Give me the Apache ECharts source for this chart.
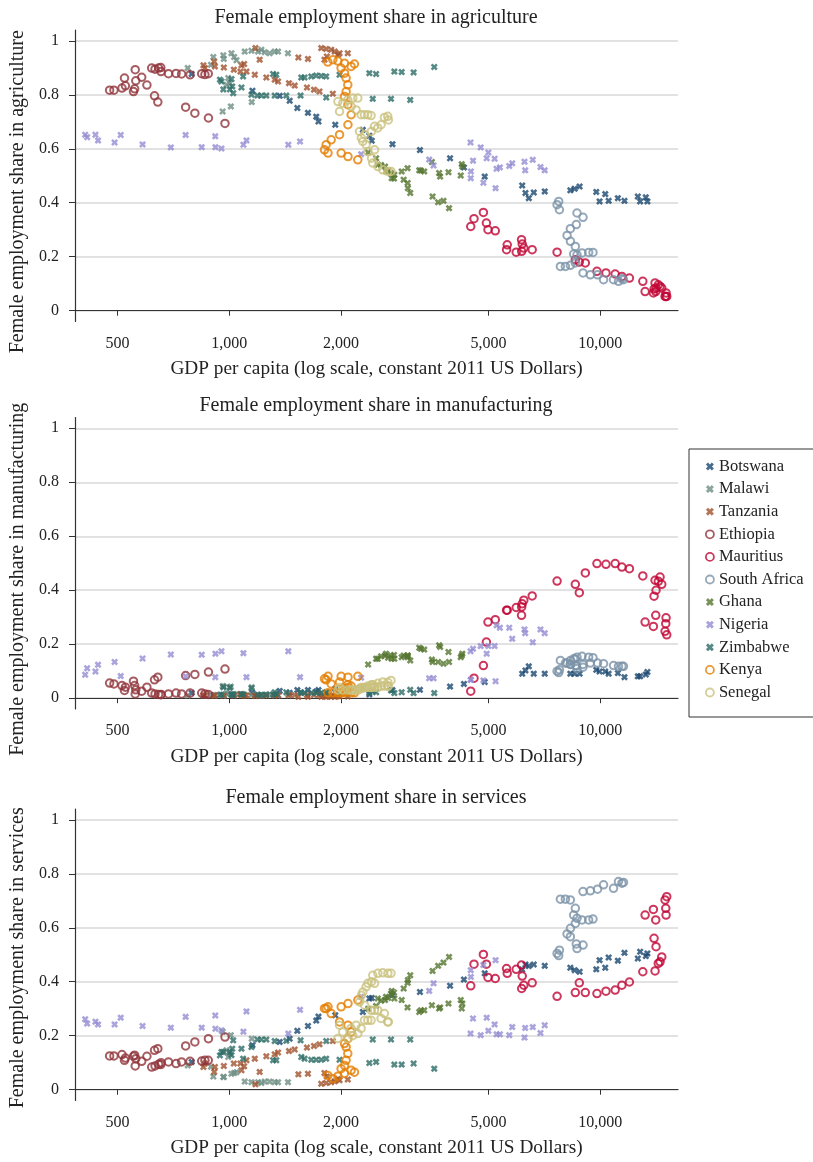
<!DOCTYPE html>
<html>
<head>
<meta charset="utf-8">
<title>Female employment share by sector</title>
<script src="https://cdn.jsdelivr.net/npm/echarts@6/dist/echarts.min.js"></script>
<style>
  html, body { margin: 0; padding: 0; background: #fff; }
  #container { width: 813px; height: 1162px; }
</style>
</head>
<body>
<div id="container"></div>
<script>
// ---- data (GDP per capita, constant 2011 US$; shares of female employment) ----
var countries = ["Botswana", "Malawi", "Tanzania", "Ethiopia", "Mauritius", "South Africa",
  "Ghana", "Nigeria", "Zimbabwe", "Kenya", "Senegal"];
var sectors = ["agriculture", "manufacturing", "services"];
var xTicks = [500, 1000, 2000, 5000, 10000];
var yTicks = [0, 0.2, 0.4, 0.6, 0.8, 1];

var botswanaGdp = [792, 1155, 1368, 1455, 1526, 1630, 1716, 1740, 1931, 2291, 2386, 2422, 2754, 3266, 3937, 4291, 4882, 6161, 6287, 6418, 6619, 7085, 8306, 8530, 8798, 9755, 9957, 10314, 10534, 11155, 11621, 12625, 12807, 13267, 13399];
var botswanaAgri = [.877, .815, .796, .778, .751, .733, .719, .701, .689, .670, .648, .630, .617, .595, .565, .531, .497, .464, .436, .417, .438, .442, .446, .452, .460, .440, .405, .432, .407, .417, .407, .423, .405, .420, .405];
var botswanaManu = [.02, .02, .027, .02, .03, .03, .025, .03, .035, .04, .014, .03, .03, .031, .043, .053, .06, .091, .103, .118, .091, .091, .091, .091, .091, .105, .099, .099, .091, .093, .078, .081, .081, .088, .097];
var botswanaServ = [.103, .165, .177, .189, .218, .236, .256, .271, .276, .288, .338, .34, .35, .362, .385, .408, .431, .445, .464, .458, .464, .459, .452, .443, .437, .446, .48, .452, .49, .478, .507, .486, .511, .495, .505];

var malawiGdp = [773, 893, 906, 964, 967, 983, 994, 1004, 1010, 960, 1014, 1031, 1046, 1101, 1148, 1150, 1196, 1221, 1246, 1285, 1326, 1354, 1440];
var malawiAgri = [.899, .911, .940, .946, .933, .837, .862, .843, .757, .738, .954, .940, .928, .960, .963, .773, .960, .967, .958, .954, .960, .960, .954];
var malawiManu = [.010, .012, .012, .010, .043, .018, .017, .041, .043, .045, .015, .015, .015, .012, .012, .041, .012, .010, .012, .015, .012, .012, .015];
var malawiServ = [.090, .085, .049, .047, .047, .146, .121, .134, .202, .215, .059, .062, .065, .030, .028, .189, .028, .025, .030, .030, .028, .028, .028];

var tanzaniaGdp = [852, 860, 911, 915, 967, 1029, 1072, 1079, 1097, 1113, 1172, 1177, 1208, 1259, 1326, 1354, 1449, 1501, 1536, 1630, 1620, 1692, 1751, 1902, 1770, 1825, 1883, 1924, 1983, 2087, 1806, 1833, 1963];
var tanzaniaAgri = [.909, .899, .923, .905, .901, .893, .886, .909, .914, .886, .874, .973, .930, .864, .856, .849, .843, .834, .938, .933, .827, .819, .812, .804, .973, .970, .967, .960, .954, .954, .930, .942, .948];
var tanzaniaManu = [.010, .010, .010, .010, .010, .010, .015, .012, .010, .010, .010, .008, .010, .010, .010, .010, .010, .012, .005, .005, .012, .012, .012, .012, .005, .005, .005, .005, .006, .006, .008, .008, .008];
var tanzaniaServ = [.084, .097, .066, .084, .088, .097, .097, .072, .087, .109, .115, .020, .066, .124, .131, .138, .143, .149, .057, .059, .156, .162, .168, .180, .022, .025, .028, .031, .035, .038, .062, .049, .040];

var ethiopiaGdp = [476, 489, 514, 522, 525, 552, 556, 558, 560, 581, 600, 618, 629, 631, 642, 645, 654, 655, 686, 719, 744, 763, 784, 808, 843, 860, 878, 879, 974];
var ethiopiaAgri = [.817, .817, .825, .862, .833, .812, .822, .893, .852, .865, .836, .899, .796, .895, .773, .899, .901, .886, .878, .879, .877, .754, .874, .732, .878, .875, .878, .714, .694];
var ethiopiaManu = [.056, .053, .047, .029, .041, .063, .047, .016, .031, .026, .041, .019, .068, .016, .078, .014, .013, .014, .016, .019, .016, .084, .019, .088, .019, .016, .014, .097, .108];
var ethiopiaServ = [.125, .125, .130, .109, .117, .124, .128, .088, .115, .105, .124, .084, .146, .088, .152, .094, .093, .100, .103, .097, .103, .162, .105, .177, .106, .109, .109, .189, .195];

var mauritiusGdp = [4476, 4568, 4842, 4933, 4982, 5213, 5614, 5591, 5936, 6135, 6161, 6222, 6140, 6554, 7649, 8566, 8781, 9114, 9797, 10360, 10970, 11436, 11983, 13022, 14049, 14336, 14493, 14647, 14136, 13964, 14110, 13210, 13905, 15043, 15015, 14950, 15108];
var mauritiusAgri = [.312, .341, .364, .325, .300, .296, .244, .226, .217, .263, .247, .232, .220, .226, .217, .189, .180, .177, .146, .140, .136, .127, .121, .109, .103, .096, .090, .084, .084, .080, .071, .071, .066, .066, .053, .053, .053];
var mauritiusManu = [.026, .074, .121, .208, .282, .291, .326, .326, .336, .307, .350, .363, .338, .379, .434, .422, .391, .464, .499, .496, .499, .486, .480, .453, .437, .433, .449, .422, .400, .378, .307, .282, .266, .298, .276, .248, .235];
var mauritiusServ = [.385, .465, .501, .465, .416, .412, .431, .449, .446, .462, .421, .387, .375, .396, .346, .360, .396, .360, .356, .365, .369, .387, .399, .437, .440, .468, .474, .492, .530, .561, .629, .647, .668, .647, .672, .703, .715];

var southAfricaGdp = [7649, 7728, 7762, 8656, 8986, 8619, 8306, 8138, 8310, 8566, 8656, 8930, 9305, 9559, 8477, 7808, 8053, 8306, 8566, 8986, 9401, 9833, 10206, 10858, 11197, 11436, 11550];
var southAfricaAgri = [.393, .405, .374, .362, .346, .319, .304, .279, .257, .238, .207, .214, .216, .216, .210, .164, .164, .168, .177, .140, .133, .133, .115, .115, .109, .119, .115];
var southAfricaManu = [.100, .095, .105, .110, .115, .120, .125, .130, .140, .145, .152, .155, .152, .150, .146, .140, .130, .125, .121, .125, .130, .130, .128, .121, .118, .118, .118];
var southAfricaServ = [.505, .497, .517, .523, .536, .540, .567, .577, .598, .616, .635, .629, .629, .632, .647, .706, .706, .703, .672, .734, .737, .743, .759, .746, .771, .765, .768];

var ghanaGdp = [2368, 2488, 2514, 2566, 2630, 2646, 2680, 2729, 2741, 2780, 2786, 2916, 2952, 3026, 3030, 3075, 3024, 3252, 3354, 3286, 3517, 3532, 3656, 3780, 3913, 3679, 3702, 3899, 4207, 4233, 4249];
var ghanaAgri = [.586, .565, .541, .540, .534, .516, .520, .510, .491, .490, .504, .516, .485, .473, .454, .436, .528, .520, .516, .519, .551, .423, .402, .407, .380, .510, .497, .513, .501, .543, .534];
var ghanaManu = [.125, .146, .146, .155, .158, .165, .150, .158, .146, .160, .146, .152, .158, .152, .158, .140, .158, .187, .180, .183, .143, .134, .134, .128, .134, .196, .190, .171, .152, .158, .165];
var ghanaServ = [.300, .310, .338, .330, .332, .344, .340, .356, .366, .360, .338, .332, .375, .396, .406, .424, .305, .288, .294, .294, .313, .440, .459, .471, .492, .301, .305, .319, .332, .301, .319];

var nigeriaGdp = [409, 414, 436, 443, 491, 510, 584, 696, 763, 843, 917, 918, 953, 1092, 1113, 1443, 1552, 2267, 3459, 3554, 4476, 4480, 4470, 4540, 4761, 4842, 4994, 4942, 5191, 5222, 5255, 5364, 5686, 5791, 6249, 6276, 6578, 6900, 7085];
var nigeriaAgri = [.652, .643, .652, .631, .623, .651, .616, .605, .651, .606, .646, .606, .601, .615, .631, .615, .627, .580, .560, .538, .491, .516, .623, .556, .605, .474, .586, .565, .563, .454, .526, .531, .536, .546, .552, .520, .559, .532, .520];
var nigeriaManu = [.087, .111, .099, .124, .134, .082, .147, .162, .081, .161, .078, .165, .174, .167, .078, .174, .078, .076, .074, .074, .068, .068, .174, .183, .193, .066, .193, .165, .193, .063, .270, .261, .261, .220, .255, .241, .207, .255, .241];
var nigeriaServ = [.261, .245, .252, .242, .242, .267, .236, .230, .270, .230, .275, .226, .220, .215, .290, .208, .296, .344, .366, .394, .443, .418, .208, .264, .202, .462, .218, .267, .242, .480, .205, .205, .202, .232, .193, .229, .232, .210, .239];

var zimbabweGdp = [944, 953, 1014, 1019, 1025, 1004, 964, 1079, 1090, 1148, 1191, 1221, 1259, 1313, 1339, 1326, 1425, 1557, 1564, 1596, 1664, 1716, 1770, 1825, 1826, 1983, 2386, 2488, 2437, 2729, 2786, 2916, 3075, 3140, 3569];
var zimbabweAgri = [.856, .849, .858, .831, .806, .820, .820, .827, .868, .800, .797, .797, .797, .877, .874, .797, .797, .797, .864, .864, .868, .871, .870, .868, .790, .874, .880, .877, .785, .785, .886, .884, .781, .883, .903];
var zimbabweManu = [.013, .013, .013, .013, .013, .039, .041, .015, .015, .037, .013, .013, .013, .013, .015, .022, .022, .022, .020, .020, .020, .020, .020, .020, .022, .020, .020, .022, .026, .029, .019, .022, .031, .019, .019];
var zimbabweServ = [.127, .140, .128, .152, .183, .140, .140, .152, .115, .158, .186, .186, .186, .109, .109, .180, .181, .183, .121, .115, .111, .111, .111, .115, .180, .111, .099, .103, .186, .186, .093, .093, .186, .097, .078];

var kenyaGdp = [1844, 1902, 1963, 2044, 2175, 2131, 2002, 2046, 2065, 2087, 2066, 2045, 2088, 2131, 2089, 1983, 1883, 1825, 1806, 1846, 2003, 2090, 2221];
var kenyaAgri = [.921, .930, .925, .917, .914, .905, .899, .880, .862, .837, .812, .794, .763, .726, .689, .652, .633, .615, .596, .584, .584, .571, .559];
var kenyaManu = [.020, .020, .020, .020, .020, .020, .020, .025, .025, .030, .030, .035, .040, .045, .050, .060, .053, .068, .072, .081, .081, .078, .081];
var kenyaServ = [.053, .041, .050, .060, .065, .072, .078, .090, .109, .134, .158, .171, .189, .214, .239, .251, .282, .301, .301, .307, .307, .319, .332];

var senegalGdp = [1963, 2023, 1983, 2087, 2153, 2221, 2131, 2198, 2267, 2314, 2363, 2412, 2463, 2514, 2566, 2619, 2684, 2674, 2415, 2316, 2244, 2270, 2291, 2338, 2465, 2365, 2418, 2437, 2516, 2593, 2676, 2729];
var senegalAgri = [.775, .769, .738, .781, .788, .788, .757, .744, .726, .726, .726, .723, .683, .677, .689, .716, .707, .720, .664, .652, .664, .640, .627, .615, .596, .590, .565, .547, .534, .522, .516, .516];
var senegalManu = [.030, .030, .040, .030, .030, .030, .030, .030, .040, .040, .040, .040, .040, .040, .045, .045, .045, .045, .040, .040, .035, .035, .040, .040, .045, .045, .050, .050, .055, .060, .059, .066];
var senegalServ = [.190, .214, .239, .189, .200, .208, .227, .239, .227, .257, .257, .257, .294, .294, .264, .282, .251, .251, .294, .313, .325, .350, .362, .381, .394, .394, .400, .424, .431, .433, .431, .431];

var countryData = {
  "Botswana": [botswanaGdp, botswanaAgri, botswanaManu, botswanaServ],
  "Malawi": [malawiGdp, malawiAgri, malawiManu, malawiServ],
  "Tanzania": [tanzaniaGdp, tanzaniaAgri, tanzaniaManu, tanzaniaServ],
  "Ethiopia": [ethiopiaGdp, ethiopiaAgri, ethiopiaManu, ethiopiaServ],
  "Mauritius": [mauritiusGdp, mauritiusAgri, mauritiusManu, mauritiusServ],
  "South Africa": [southAfricaGdp, southAfricaAgri, southAfricaManu, southAfricaServ],
  "Ghana": [ghanaGdp, ghanaAgri, ghanaManu, ghanaServ],
  "Nigeria": [nigeriaGdp, nigeriaAgri, nigeriaManu, nigeriaServ],
  "Zimbabwe": [zimbabweGdp, zimbabweAgri, zimbabweManu, zimbabweServ],
  "Kenya": [kenyaGdp, kenyaAgri, kenyaManu, kenyaServ],
  "Senegal": [senegalGdp, senegalAgri, senegalManu, senegalServ]
};

// ---- styling ----
var colors = {
  "Botswana": "#1a476f", "Malawi": "#6e8e84", "Tanzania": "#a0522d", "Ethiopia": "#90353b",
  "Mauritius": "#c10534", "South Africa": "#7b92a8", "Ghana": "#55752f", "Nigeria": "#938dd2",
  "Zimbabwe": "#2d6d66", "Kenya": "#e37e00", "Senegal": "#cac27e"
};
var hollow = { "Ethiopia": true, "Mauritius": true, "South Africa": true, "Kenya": true, "Senegal": true };
var crossPath = "path://M0,2.6L2.6,0L5,2.4L7.4,0L10,2.6L7.6,5L10,7.4L7.4,10L5,7.6L2.6,10L0,7.4L2.4,5Z";
var font = "'Liberation Serif', 'Times New Roman', serif";
var textColor = "#222";

var dom = document.getElementById("container");
var myChart = echarts.init(dom, null, { renderer: "canvas" });

var gridTops = [30, 417.5, 809];
var titleTops = [3, 391, 783];
// the y titles sit a little below the middle of each plot
var yNamePad = [[0, 32, 0, 0], [0, 32, 0, 0], [0, 6, 0, 0]];
var grids = [], xAxes = [], yAxes = [], titles = [], series = [];

for (let p = 0; p < 3; p++) {
  grids.push({ left: 73, right: 135, top: gridTops[p], height: 291.5 });
  titles.push({
    text: "Female employment share in " + sectors[p],
    left: 371, top: titleTops[p], textAlign: "center",
    textStyle: { fontFamily: font, fontSize: 20, fontWeight: "normal", color: textColor }
  });
  xAxes.push({
    type: "log", logBase: 10, gridIndex: p, min: 384, max: 16200,
    name: "GDP per capita (log scale, constant 2011 US Dollars)",
    nameLocation: "middle", nameGap: 38,
    nameTextStyle: { fontFamily: font, fontSize: 19.3, color: textColor },
    axisLine: { lineStyle: { color: "#333", width: 1.2 } },
    axisTick: { customValues: xTicks, length: 5, lineStyle: { color: "#333" } },
    axisLabel: {
      customValues: xTicks, margin: 14,
      fontFamily: font, fontSize: 16, color: textColor,
      formatter: function (v) { return Math.round(v).toLocaleString("en-US"); }
    },
    splitLine: { show: false }
  });
  yAxes.push({
    type: "value", gridIndex: p, min: -0.04, max: 1.04,
    name: "Female employment share in " + sectors[p],
    nameLocation: "middle", nameGap: 47,
    nameTextStyle: { fontFamily: font, fontSize: 20, color: textColor, padding: yNamePad[p] },
    axisLine: { show: true, lineStyle: { color: "#333", width: 1.2 } },
    axisTick: { show: true, customValues: yTicks, length: 6, lineStyle: { color: "#333" } },
    axisLabel: {
      customValues: yTicks, margin: 16,
      fontFamily: font, fontSize: 16, color: textColor,
      formatter: function (v) { return String(Math.round(v * 10) / 10); }
    },
    splitLine: { show: true, lineStyle: { color: "#d9d9d9", width: 1.5 } }
  });

  countries.forEach(function (name) {
    let d = countryData[name];
    let gdp = d[0], share = d[p + 1];
    let pts = gdp.map(function (g, i) { return [g, share[i]]; });
    let c = colors[name];
    series.push({
      name: name, type: "scatter", xAxisIndex: p, yAxisIndex: p,
      data: pts,
      symbol: hollow[name] ? "circle" : crossPath,
      symbolSize: hollow[name] ? 7.5 : 7,
      itemStyle: hollow[name]
        ? { color: "rgba(0,0,0,0)", borderColor: c, borderWidth: 2 }
        : { color: c, borderWidth: 0 },
      emphasis: { disabled: true }
    });
  });
}

option = {
  animation: false,
  backgroundColor: "#fff",
  title: titles,
  grid: grids,
  xAxis: xAxes,
  yAxis: yAxes,
  legend: {
    orient: "vertical",
    left: 689, top: 449,
    padding: [9, 18, 16, 16],
    itemGap: 5.6, itemWidth: 8, itemHeight: 8,
    borderColor: "#333", borderWidth: 1,
    textStyle: { fontFamily: font, fontSize: 16.5, color: textColor, lineHeight: 16 },
    data: countries.map(function (name) {
      return hollow[name]
        ? { name: name, icon: "circle", itemStyle: { color: "#fff", borderColor: colors[name], borderWidth: 1.8 } }
        : { name: name, icon: crossPath, itemStyle: { color: colors[name], borderWidth: 0 } };
    })
  },
  series: series
};

if (option && typeof option === "object") {
  myChart.setOption(option, true);
}
</script>
</body>
</html>
